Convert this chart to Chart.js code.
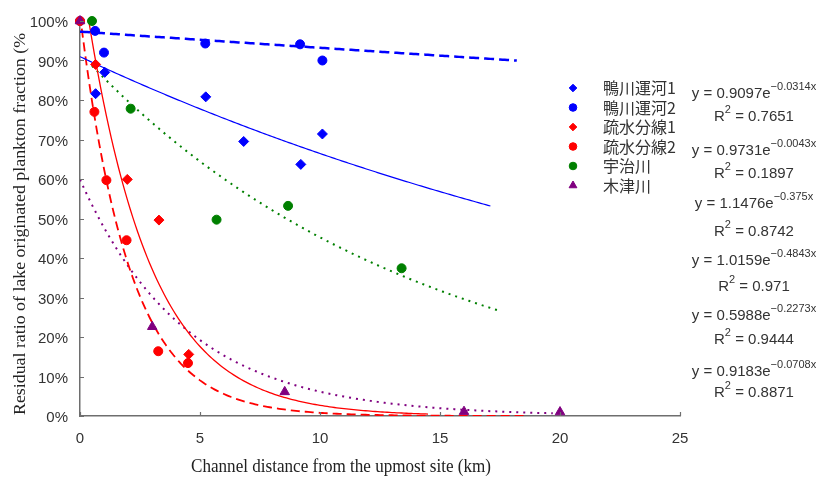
<!DOCTYPE html>
<html>
<head>
<meta charset="utf-8">
<script src="https://cdn.jsdelivr.net/npm/chart.js@4.4.1/dist/chart.umd.min.js"></script>
<style>
  html, body { margin: 0; padding: 0; background: #fff; }
  #wrap { width: 820px; height: 477px; position: relative; }
</style>
</head>
<body>
<div id="wrap"><canvas id="chart" width="820" height="477"></canvas></div>
<script>
// ---- data ----
const seriesNames = ['鴨川運河1', '鴨川運河2', '疏水分線1', '疏水分線2', '宇治川', '木津川'];

// distance along channel (km) and residual ratio (fraction) per series
const kamoCanal1X = [0, 0.65, 1.03, 5.24, 6.82, 9.2, 10.1];
const kamoCanal1Y = [1.0, 0.816, 0.870, 0.808, 0.695, 0.637, 0.714];
const kamoCanal2X = [0, 0.63, 1.0, 5.22, 9.17, 10.1];
const kamoCanal2Y = [1.0, 0.975, 0.920, 0.943, 0.941, 0.900];
const sosui1X = [0, 0.65, 1.97, 3.29, 4.53];
const sosui1Y = [1.0, 0.890, 0.599, 0.496, 0.156];
const sosui2X = [0, 0.6, 1.1, 1.94, 3.26, 4.5];
const sosui2Y = [1.0, 0.770, 0.597, 0.445, 0.164, 0.134];
const ujiX = [0.5, 2.11, 5.69, 8.67, 13.4];
const ujiY = [1.0, 0.778, 0.497, 0.532, 0.374];
const kizuX = [0, 3.01, 8.53, 16.0, 20.0];
const kizuY = [1.0, 0.226, 0.061, 0.011, 0.010];

// exponential trendlines y = a * e^(b x)
const fitA = [0.9097, 0.9731, 1.1476, 1.0159, 0.9183, 0.5988];
const fitB = [-0.0314, -0.0043, -0.375, -0.4843, -0.0708, -0.2273];
const fitR2 = ['0.7651', '0.1897', '0.8742', '0.971', '0.8871', '0.9444'];
const fitFrom = [0, 0, 0, 0, 0.5, 0];
const fitTo = [17.1, 18.2, 14.5, 18.5, 17.4, 19.7];
// order in which the equations are listed beside the legend
const equationOrder = [0, 1, 2, 3, 5, 4];

// axis ticks
const xTickValues = [0, 5, 10, 15, 20, 25];
const yTickValues = [0, 0.1, 0.2, 0.3, 0.4, 0.5, 0.6, 0.7, 0.8, 0.9, 1.0];

// ---- styling ----
const colors = ['#0000ff', '#0000ff', '#ff0000', '#ff0000', '#008000', '#800080'];
const markers = ['rectRot', 'circle', 'rectRot', 'circle', 'circle', 'triangle'];
const markerRadius = [5, 4.5, 5, 4.5, 4.5, 5.5];
const lineDash = [[], [10, 5], [], [9, 5], [2, 5], [2, 5]];
const lineWidth = [1.2, 2.5, 1.3, 1.8, 2, 2];
const pointDrawOrder = [5, 4, 3, 2, 1, 0];

const xs = [kamoCanal1X, kamoCanal2X, sosui1X, sosui2X, ujiX, kizuX];
const ys = [kamoCanal1Y, kamoCanal2Y, sosui1Y, sosui2Y, ujiY, kizuY];

function pairs(xArr, yArr) {
  return xArr.map((x, i) => ({ x: x, y: yArr[i] }));
}

function trendPoints(i) {
  const pts = [];
  const n = Math.round((fitTo[i] - fitFrom[i]) / 0.1);
  for (let k = 0; k <= n; k++) {
    const x = fitFrom[i] + (fitTo[i] - fitFrom[i]) * k / n;
    pts.push({ x: x, y: fitA[i] * Math.exp(fitB[i] * x) });
  }
  return pts;
}

const datasets = [];
seriesNames.forEach((name, i) => {
  datasets.push({
    label: name + ' trend',
    data: trendPoints(i),
    showLine: true,
    borderColor: colors[i],
    borderWidth: lineWidth[i],
    borderDash: lineDash[i],
    pointRadius: 0,
    pointHoverRadius: 0,
    fill: false,
    tension: 0,
    order: 20 + i
  });
});
seriesNames.forEach((name, i) => {
  datasets.push({
    label: name,
    data: pairs(xs[i], ys[i]),
    showLine: false,
    pointStyle: markers[i],
    pointRadius: markerRadius[i],
    pointBackgroundColor: colors[i],
    pointBorderColor: colors[i],
    pointBorderWidth: 1,
    clip: false,
    order: pointDrawOrder[i]
  });
});

const axisColor = '#6e6e6e';
const textColor = '#333333';
const tickFont = { family: '"Liberation Sans Narrow", "Liberation Sans", Arial, sans-serif', size: 15 };

// draws a string horizontally squeezed to a given length
function squeezedText(ctx, text, font, targetLen) {
  ctx.font = font;
  const w = ctx.measureText(text).width;
  const s = targetLen / w;
  ctx.scale(s, 1);
  ctx.fillText(text, 0, 0);
}

const decorations = {
  id: 'decorations',
  afterDraw(chart) {
    const ctx = chart.ctx;
    const xs_ = chart.scales.x, ys_ = chart.scales.y;
    const area = chart.chartArea;

    // inward tick marks
    ctx.save();
    ctx.strokeStyle = axisColor;
    ctx.lineWidth = 1.2;
    ctx.beginPath();
    xTickValues.forEach(v => {
      const px = Math.round(xs_.getPixelForValue(v)) + 0.5;
      ctx.moveTo(px, area.bottom);
      ctx.lineTo(px, area.bottom - 4);
    });
    yTickValues.forEach(v => {
      const py = Math.round(ys_.getPixelForValue(v)) + 0.5;
      ctx.moveTo(area.left, py);
      ctx.lineTo(area.left + 4, py);
    });
    ctx.stroke();
    ctx.restore();

    // axis titles
    ctx.save();
    ctx.fillStyle = '#222';
    ctx.textAlign = 'center';
    ctx.textBaseline = 'alphabetic';
    ctx.translate(341, 472);
    squeezedText(ctx, 'Channel distance from the upmost site (km)', '18px "Liberation Serif", "Times New Roman", serif', 300);
    ctx.restore();

    ctx.save();
    ctx.fillStyle = '#222';
    ctx.textAlign = 'left';
    ctx.textBaseline = 'alphabetic';
    ctx.translate(25, 415);
    ctx.rotate(-Math.PI / 2);
    squeezedText(ctx, 'Residual ratio of lake originated plankton fraction (%', '17px "Liberation Serif", "Times New Roman", serif', 382);
    ctx.restore();

    // legend
    ctx.save();
    seriesNames.forEach((name, i) => {
      const y = 88 + i * 19.5;
      ctx.fillStyle = colors[i];
      ctx.strokeStyle = colors[i];
      ctx.lineWidth = 1;
      Chart.helpers.drawPoint(ctx, { pointStyle: markers[i], radius: markers[i] === 'triangle' ? 4.5 : 3.8, rotation: 0, borderWidth: 1 }, 573, y);
      ctx.fillStyle = textColor;
      ctx.font = '16px "Noto Sans CJK JP", sans-serif';
      ctx.textAlign = 'left';
      ctx.textBaseline = 'middle';
      ctx.fillText(name, 603, y);
    });
    ctx.restore();

    // trendline equations
    const eqY = [93.5, 150.7, 204, 260.7, 316, 372];
    const r2Y = [117, 174, 232, 287, 340, 393];
    const mainFont = '15px "Liberation Sans", Arial, sans-serif';
    const supFont = '11px "Liberation Sans", Arial, sans-serif';
    const centerX = 754;
    ctx.save();
    ctx.fillStyle = textColor;
    ctx.textBaseline = 'middle';
    ctx.textAlign = 'left';
    equationOrder.forEach((si, row) => {
      const main = 'y = ' + String(fitA[si]) + 'e';
      const sup = String(fitB[si]).replace('-', '\u2212') + 'x';
      ctx.font = mainFont;
      const wMain = ctx.measureText(main).width;
      ctx.font = supFont;
      const wSup = ctx.measureText(sup).width;
      let x0 = centerX - (wMain + wSup) / 2;
      ctx.font = mainFont;
      ctx.fillText(main, x0, eqY[row]);
      ctx.font = supFont;
      ctx.fillText(sup, x0 + wMain, eqY[row] - 7);

      const rTail = ' = ' + fitR2[si];
      ctx.font = mainFont;
      const wR = ctx.measureText('R').width;
      const wTail = ctx.measureText(rTail).width;
      ctx.font = supFont;
      const w2 = ctx.measureText('2').width;
      x0 = centerX - (wR + w2 + wTail) / 2;
      ctx.font = mainFont;
      ctx.fillText('R', x0, r2Y[row]);
      ctx.font = supFont;
      ctx.fillText('2', x0 + wR, r2Y[row] - 7);
      ctx.font = mainFont;
      ctx.fillText(rTail, x0 + wR + w2, r2Y[row]);
    });
    ctx.restore();
  }
};

new Chart(document.getElementById('chart'), {
  type: 'scatter',
  data: { datasets: datasets },
  options: {
    responsive: false,
    animation: false,
    events: [],
    layout: { padding: { left: 0, top: 14, right: 140, bottom: 0 } },
    plugins: {
      legend: { display: false },
      tooltip: { enabled: false },
      title: { display: false }
    },
    scales: {
      x: {
        type: 'linear',
        min: 0,
        max: 25,
        afterBuildTicks: s => { s.ticks = xTickValues.map(v => ({ value: v })); },
        ticks: { color: textColor, font: tickFont, padding: 14, maxRotation: 0 },
        grid: { display: false, drawTicks: false },
        border: { display: true, color: axisColor, width: 1.5 },
        afterFit: s => { s.height = 61; }
      },
      y: {
        type: 'linear',
        min: 0,
        max: 1,
        afterBuildTicks: s => { s.ticks = yTickValues.map(v => ({ value: v })); },
        ticks: {
          color: textColor,
          font: tickFont,
          padding: 12,
          labelOffset: 2,
          callback: v => Math.round(v * 100) + '%'
        },
        grid: { display: false, drawTicks: false },
        border: { display: true, color: axisColor, width: 1.5 },
        afterFit: s => { s.width = 80; }
      }
    }
  },
  plugins: [decorations]
});
</script>
</body>
</html>
